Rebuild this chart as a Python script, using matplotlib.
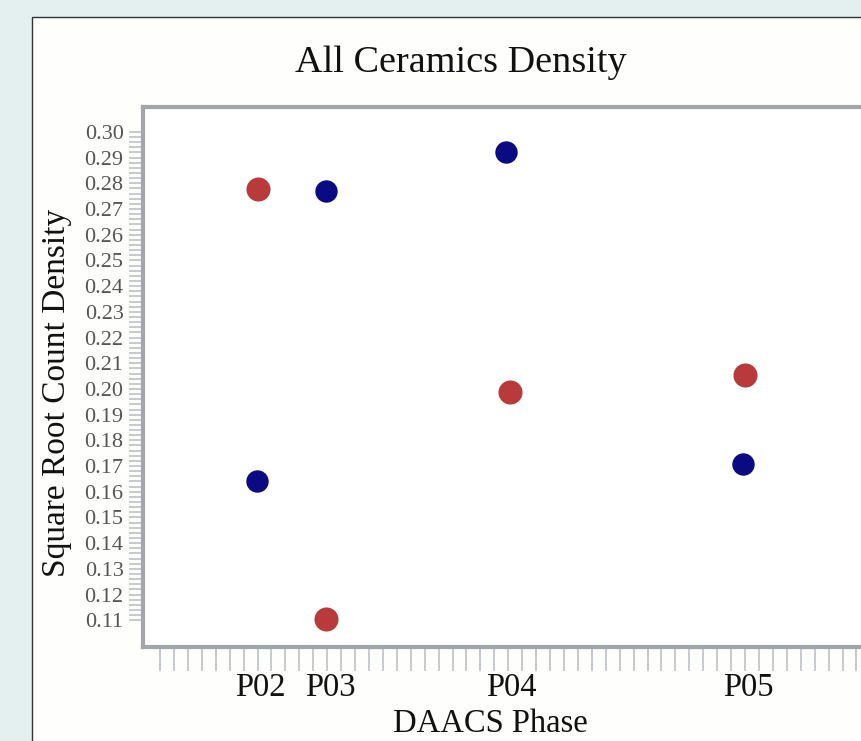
import numpy as np
import matplotlib
matplotlib.use("Agg")
import matplotlib.pyplot as plt
import matplotlib.transforms as mtransforms
from matplotlib.patches import Rectangle
from matplotlib.ticker import FixedLocator

# Data
phases = ["P02", "P03", "P04", "P05"]
phase_pos = [7, 12, 25, 42]
red_x = [7.05, 11.95, 25.1, 42.0]
red_y = [0.2778, 0.1105, 0.1988, 0.2054]
blue_x = [6.95, 11.95, 24.85, 41.85]
blue_y = [0.1642, 0.2770, 0.2922, 0.1708]
y_ticks = np.round(np.arange(0.11, 0.3001, 0.01), 2)

plt.rcParams['font.family'] = ['Liberation Serif', 'DejaVu Serif']

W, H = 862, 741
fig = plt.figure(figsize=(W / 100, H / 100), dpi=100)
fig.patch.set_facecolor('#e4f0f0')

# white panel with thin dark border (cropped at right/bottom)
fig.patches.append(Rectangle((32 / W, -0.1), 1.0, 1 - 17 / H + 0.1,
                             transform=fig.transFigure, facecolor='#fefefd',
                             edgecolor='#333333', linewidth=1.0, zorder=-5))

x0, x1 = 143, 910
y0, y1 = 647, 107
ax = fig.add_axes([x0 / W, 1 - y0 / H, (x1 - x0) / W, (y0 - y1) / H])
ax.set_zorder(2)
ax.set_facecolor('white')

ax.scatter(red_x, red_y, s=300, color='#b83a3a', zorder=3, linewidths=0)
ax.scatter(blue_x, blue_y, s=260, color='#0a0a82', zorder=3, linewidths=0)

unit = 13.93
ax.set_xlim(-17 / unit, -17 / unit + (x1 - x0) / unit)
ax.set_ylim(0.0996, 0.3097)

ax.set_xticks(phase_pos)
ax.set_xticklabels(phases)
ax.xaxis.set_minor_locator(FixedLocator(np.arange(0, 54)))
ax.set_yticks(y_ticks)
ax.set_yticklabels([f"{v:.2f}" for v in y_ticks])
ax.yaxis.set_minor_locator(FixedLocator(np.arange(0.11, 0.3001, 0.002)))

tc = '#b8bcbf'
ax.tick_params(axis='x', which='both', length=17, width=1.1, color=tc,
               pad=1, labelsize=23.5, labelcolor='#111111')
ax.tick_params(axis='y', which='both', length=10, width=1.1, color=tc,
               pad=4, labelsize=16, labelcolor='#555555')

# labels sit a few pixels right of their ticks in the original
shift = mtransforms.ScaledTranslation(3 / 100, 0, fig.dpi_scale_trans)
for lab in ax.get_xticklabels():
    lab.set_transform(lab.get_transform() + shift)

for s in ax.spines.values():
    s.set_color('#a2a6a9')
    s.set_linewidth(3.0)

fig.text(461 / W, 1 - 72 / H, "All Ceramics Density", ha='center',
         va='baseline', fontsize=27.5, color='#111111')
fig.text(57 / W, 1 - 393 / H, "Square Root Count Density", ha='center',
         va='center', rotation=90, fontsize=24, color='#111111')
fig.text(490 / W, 1 - 732 / H, "DAACS Phase", ha='center', va='baseline',
         fontsize=23.5, color='#111111')

fig.savefig("out.png", dpi=100, facecolor=fig.get_facecolor())
